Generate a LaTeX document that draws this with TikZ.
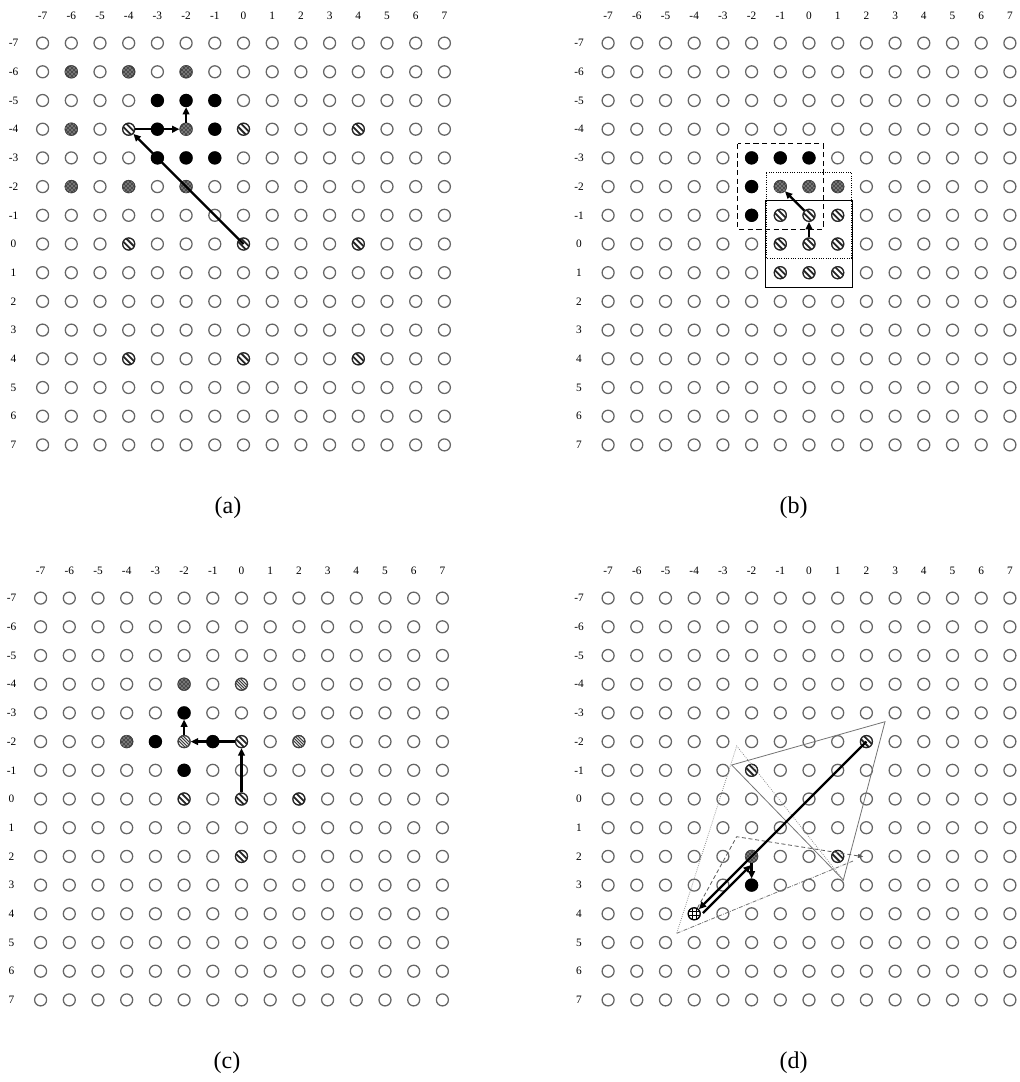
\documentclass[tikz,border=0pt]{standalone}
\usepackage{fontspec}
\setmainfont{Liberation Serif}
\usetikzlibrary{arrows.meta,calc,patterns}
\newcommand\drawpanel[3]{%
  \foreach \i in {-7,...,7}{%
    \node[lbl] (#1h\i) at ({#2+\i*28.7},{#3-228}) {\i};
    \node[lbl] (#1v\i) at ({#2-230},{#3+\i*28.7}) {\i};
    \foreach \j in {-7,...,7}{\node[hole] (#1\i_\j) at ({#2+\i*28.7},{#3+\j*28.7}) {};}
  }}
\newcommand\spot[2]{\node[#1] (#2) at (#2.center) {};}
\begin{document}
\begin{tikzpicture}[x=0.75pt,y=-0.75pt,
  lbl/.style={font=\fontsize{8.5}{10}\selectfont, inner sep=0pt},
  captxt/.style={font=\fontsize{18}{21}\selectfont, inner sep=0pt},
  dotbase/.style={circle, minimum size=9pt, inner sep=0pt, line width=0.95pt},
  hole/.style={dotbase, draw=black!60, fill=white},
  blk/.style={dotbase, draw=black, fill=black},
  speck/.style={dotbase, draw=black!75, fill=black!70, postaction={pattern=crosshatch dots, pattern color=white}},
  hatchc/.style={dotbase, draw=black!85, fill=white, path picture={
     \foreach \o in {-1.15,1.15}{\draw[line width=1.35pt] ([shift={(\o pt,\o pt)}]path picture bounding box.center) +(-6pt,6pt) -- +(6pt,-6pt);}}},
  densec/.style={dotbase, draw=black!75, fill=white, path picture={
     \foreach \o in {-1.7,-0.57,0.57,1.7}{\draw[line width=0.8pt] ([shift={(\o pt,\o pt)}]path picture bounding box.center) +(-6pt,6pt) -- +(6pt,-6pt);}}},
  gridc/.style={dotbase, draw=black, fill=white, path picture={
     \foreach \o in {-1.5,1.5}{\draw[line width=0.6pt] ([shift={(\o pt,0pt)}]path picture bounding box.center) +(0,-6pt) -- +(0,6pt);
       \draw[line width=0.6pt] ([shift={(0pt,\o pt)}]path picture bounding box.center) +(-6pt,0) -- +(6pt,0);}}},
  thk/.style={line width=1.7pt, -{Triangle[length=5.5pt,width=5pt]}},
  boxd/.style={line width=0.75pt, dash pattern=on 4pt off 2.5pt},
  boxo/.style={line width=0.75pt, densely dotted},
  boxs/.style={line width=0.75pt},
  soltri/.style={line width=0.6pt, draw=black!55},
  dottri/.style={line width=0.6pt, draw=black!45, densely dotted},
  dashtri/.style={line width=0.6pt, draw=black!65, dash pattern=on 3pt off 2pt},
  dashdot/.style={line width=0.6pt, draw=black!55, dash pattern=on 3pt off 1pt on 0.6pt off 1pt}
]
\useasboundingbox (0,0) rectangle (1020,1082);
% ---------------- panel (a)
\drawpanel{a}{243.5}{244}
\foreach \n in {a-6_-6,a-4_-6,a-2_-6,a-6_-4,a-2_-4,a-6_-2,a-4_-2,a-2_-2}{\spot{speck}{\n}}
\foreach \n in {a-3_-5,a-2_-5,a-1_-5,a-3_-4,a-1_-4,a-3_-3,a-2_-3,a-1_-3}{\spot{blk}{\n}}
\foreach \n in {a-4_-4,a0_-4,a4_-4,a-4_0,a0_0,a4_0,a-4_4,a0_4,a4_4}{\spot{hatchc}{\n}}
\draw[thk] (a0_0.center) -- (a-4_-4);
\draw[thk] (a-4_-4) -- (a-2_-4);
\draw[thk] (a-2_-4) -- (a-2_-5);
\node[captxt] (capa) at (228,508) {(a)};
% ---------------- panel (b)
\drawpanel{b}{809}{244}
\foreach \n in {b-2_-3,b-1_-3,b0_-3,b-2_-2,b-2_-1}{\spot{blk}{\n}}
\foreach \n in {b-1_-2,b0_-2,b1_-2}{\spot{speck}{\n}}
\foreach \n in {b-1_-1,b0_-1,b1_-1,b-1_0,b0_0,b1_0,b-1_1,b0_1,b1_1}{\spot{hatchc}{\n}}
\draw[boxd] ($(b-2_-3.center)+(-14,-14)$) rectangle ($(b0_-1.center)+(14,14)$);
\draw[boxo] ($(b-1_-2.center)+(-14,-14)$) rectangle ($(b1_0.center)+(14,14)$);
\draw[boxs] ($(b-1_-1.center)+(-14.5,-14.5)$) rectangle ($(b1_1.center)+(14.5,14.5)$);
\draw[thk] (b0_0) -- (b0_-1);
\draw[thk] (b0_-1) -- (b-1_-2);
\node[captxt] (capb) at (793.5,508) {(b)};
% ---------------- panel (c)
\drawpanel{c}{241.5}{799}
\foreach \n in {c-2_-4,c-4_-2}{\spot{speck}{\n}}
\foreach \n in {c0_-4,c-2_-2,c2_-2}{\spot{densec}{\n}}
\foreach \n in {c-2_-3,c-3_-2,c-1_-2,c-2_-1}{\spot{blk}{\n}}
\foreach \n in {c0_-2,c-2_0,c0_0,c2_0,c0_2}{\spot{hatchc}{\n}}
\draw[thk] (c0_0) -- (c0_-2);
\draw[thk] (c0_-2) -- (c-2_-2);
\draw[thk] (c-2_-2) -- (c-2_-3);
\node[captxt] (capc) at (227,1063) {(c)};
% ---------------- panel (d)
\drawpanel{d}{809}{799}
\foreach \n in {d2_-2,d-2_-1,d1_2}{\spot{hatchc}{\n}}
\spot{speck}{d-2_2}
\spot{blk}{d-2_3}
\spot{gridc}{d-4_4}
\coordinate (P1) at (731.7,765);
\coordinate (P2) at (885,721.7);
\coordinate (P3) at (843.3,880);
\coordinate (Q1) at (736.7,746);
\coordinate (Q2) at (676.7,933.3);
\coordinate (Q3) at (853,861);
\coordinate (R1) at (736.7,836.7);
\coordinate (R2) at (863.3,856.7);
\draw[soltri] (P1) -- (P2) -- (P3) -- cycle;
\draw[dottri] (P3) -- (Q1) -- (Q2);
\draw[dashdot] (Q2) -- (Q3);
\draw[dashtri, -{Triangle[length=4pt,width=3pt]}] (d-4_4) -- (R1) -- (R2);
\draw[thk] (d2_-2.center) -- (d-4_4);
\draw[thk, transform canvas={shift={(3pt,-3pt)}}] (d-4_4) -- (d-2_2);
\draw[thk] (d-2_2) -- (d-2_3);
\node[captxt] (capd) at (793.5,1063) {(d)};
\end{tikzpicture}
\end{document}
